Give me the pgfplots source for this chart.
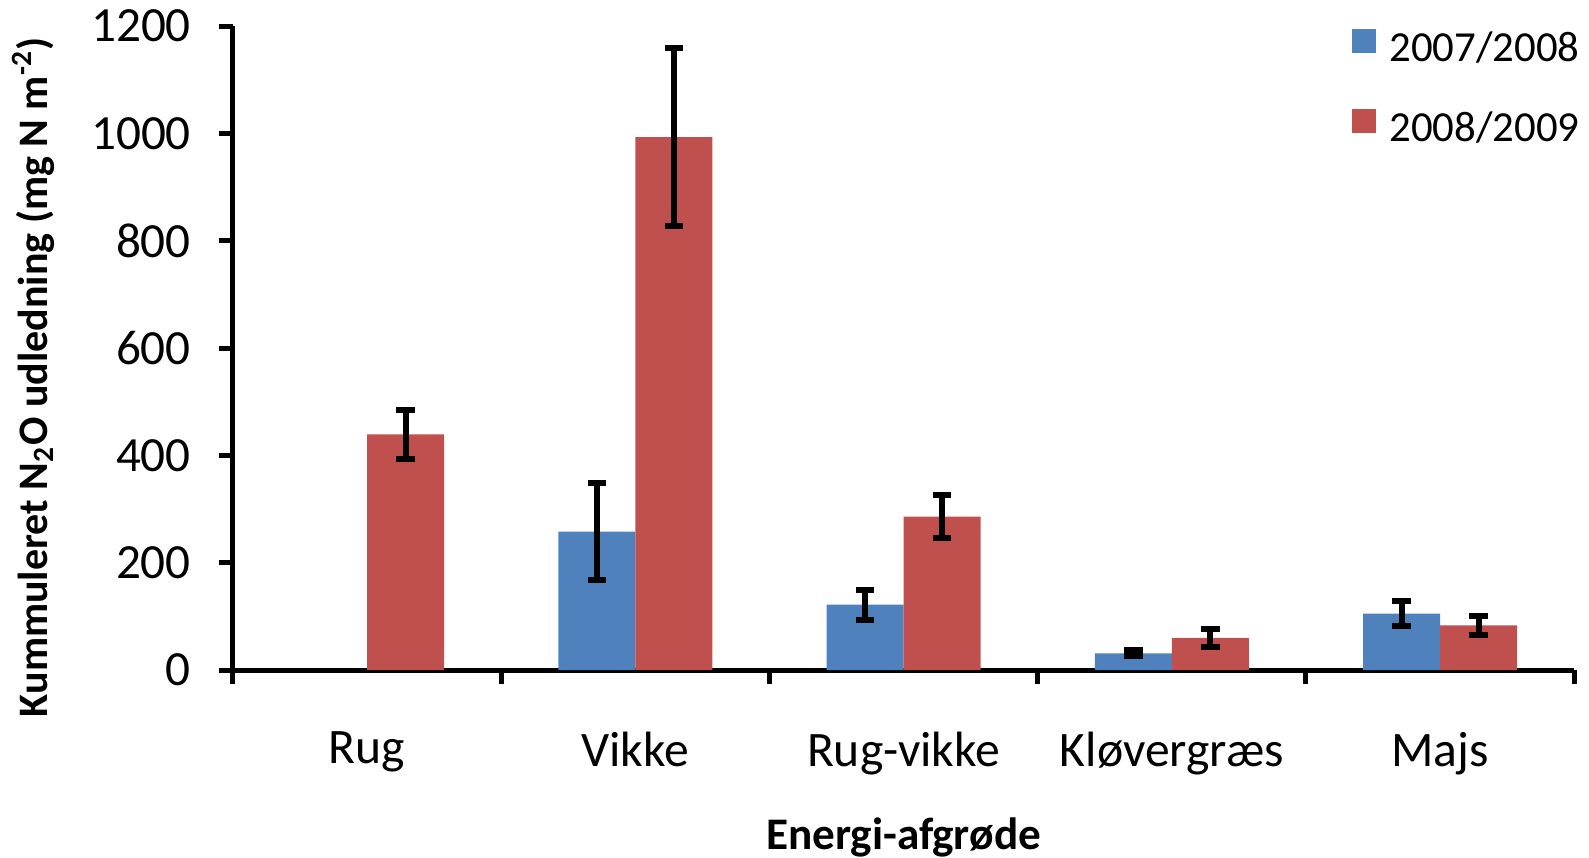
\documentclass[border=0pt]{standalone}
\usepackage{pgfplots}
\pgfplotsset{compat=1.18}
\usepackage{fontspec}
\setmainfont{Carlito}
\definecolor{serieA}{HTML}{4F81BD}
\definecolor{serieB}{HTML}{C0504D}

\begin{document}
\begin{tikzpicture}
\begin{axis}[
  scale only axis, width=335.3pt, height=161pt,
  at={(0,0)}, anchor=south west,
  ybar=0pt, bar width=19.25pt,
  xmin=-0.5, xmax=4.5, ymin=0, ymax=1200,
  xtick={-0.5,0.5,...,4.5},
  xticklabels={Rug,Vikke,Rug-vikke,Kløvergræs,Majs,{}},
  xticklabel style={xshift=33.53pt, yshift=-8.5pt, font=\fontsize{12.4}{14}\selectfont},
  ytick={0,200,...,1200},
  yticklabel style={xshift=-3.5pt, font=\fontsize{12.3}{14}\selectfont},
  /pgf/number format/assume math mode=true,
  /pgf/number format/set thousands separator={},
  scaled y ticks=false,
  axis x line=bottom, axis y line=left,
  axis line style={-, line width=1.25pt},
  tick align=outside, major tick length=3.5pt,
  tick style={black, line width=1.25pt},
  clip=false,
  xlabel={Energi-afgrøde},
  xlabel style={at={(axis description cs:0.5,-0.26)}, anchor=center, font=\bfseries\fontsize{11.3}{13}\selectfont},
  ylabel={Kummuleret N\textsubscript{2}O udledning (mg N m\textsuperscript{-2})},
  ylabel style={at={(axis description cs:-0.149,0.455)}, anchor=center, font=\bfseries\fontsize{10.5}{12}\selectfont},
  legend style={draw=none, fill=none, at={(axis description cs:0.834,1.005)}, anchor=north west,
    inner sep=0pt, row sep=7pt, font=\fontsize{10.7}{13}\selectfont, cells={anchor=west}},
  legend image code/.code={\fill[#1] (0pt,-1pt) rectangle (6pt,5pt);},
  legend cell align=left,
  error bars/error bar style={line width=1.5pt, black},
  error bars/error mark=|,
  error bars/error mark options={line width=1.5pt, black, mark size=2.3pt},
]
  % 2007/2008
  \addplot[fill=serieA, draw=none, error bars/.cd, y dir=both, y explicit]
    coordinates {(1,258) +- (0,90) (2,122) +- (0,28) (3,31) +- (0,5.5) (4,105) +- (0,23)};
  \addlegendentry{\hspace{1.3pt}2007/2008}
  % 2008/2009
  \addplot[fill=serieB, draw=none, error bars/.cd, y dir=both, y explicit]
    coordinates {(0,439) +- (0,45) (1,993) +- (0,166) (2,286) +- (0,40) (3,60) +- (0,17) (4,83) +- (0,17)};
  \addlegendentry{\hspace{1.3pt}2008/2009}
\end{axis}
\pgfresetboundingbox
\path[use as bounding box] (-58.25pt,-47pt) rectangle (339pt,167.5pt);
\end{tikzpicture}
\end{document}
